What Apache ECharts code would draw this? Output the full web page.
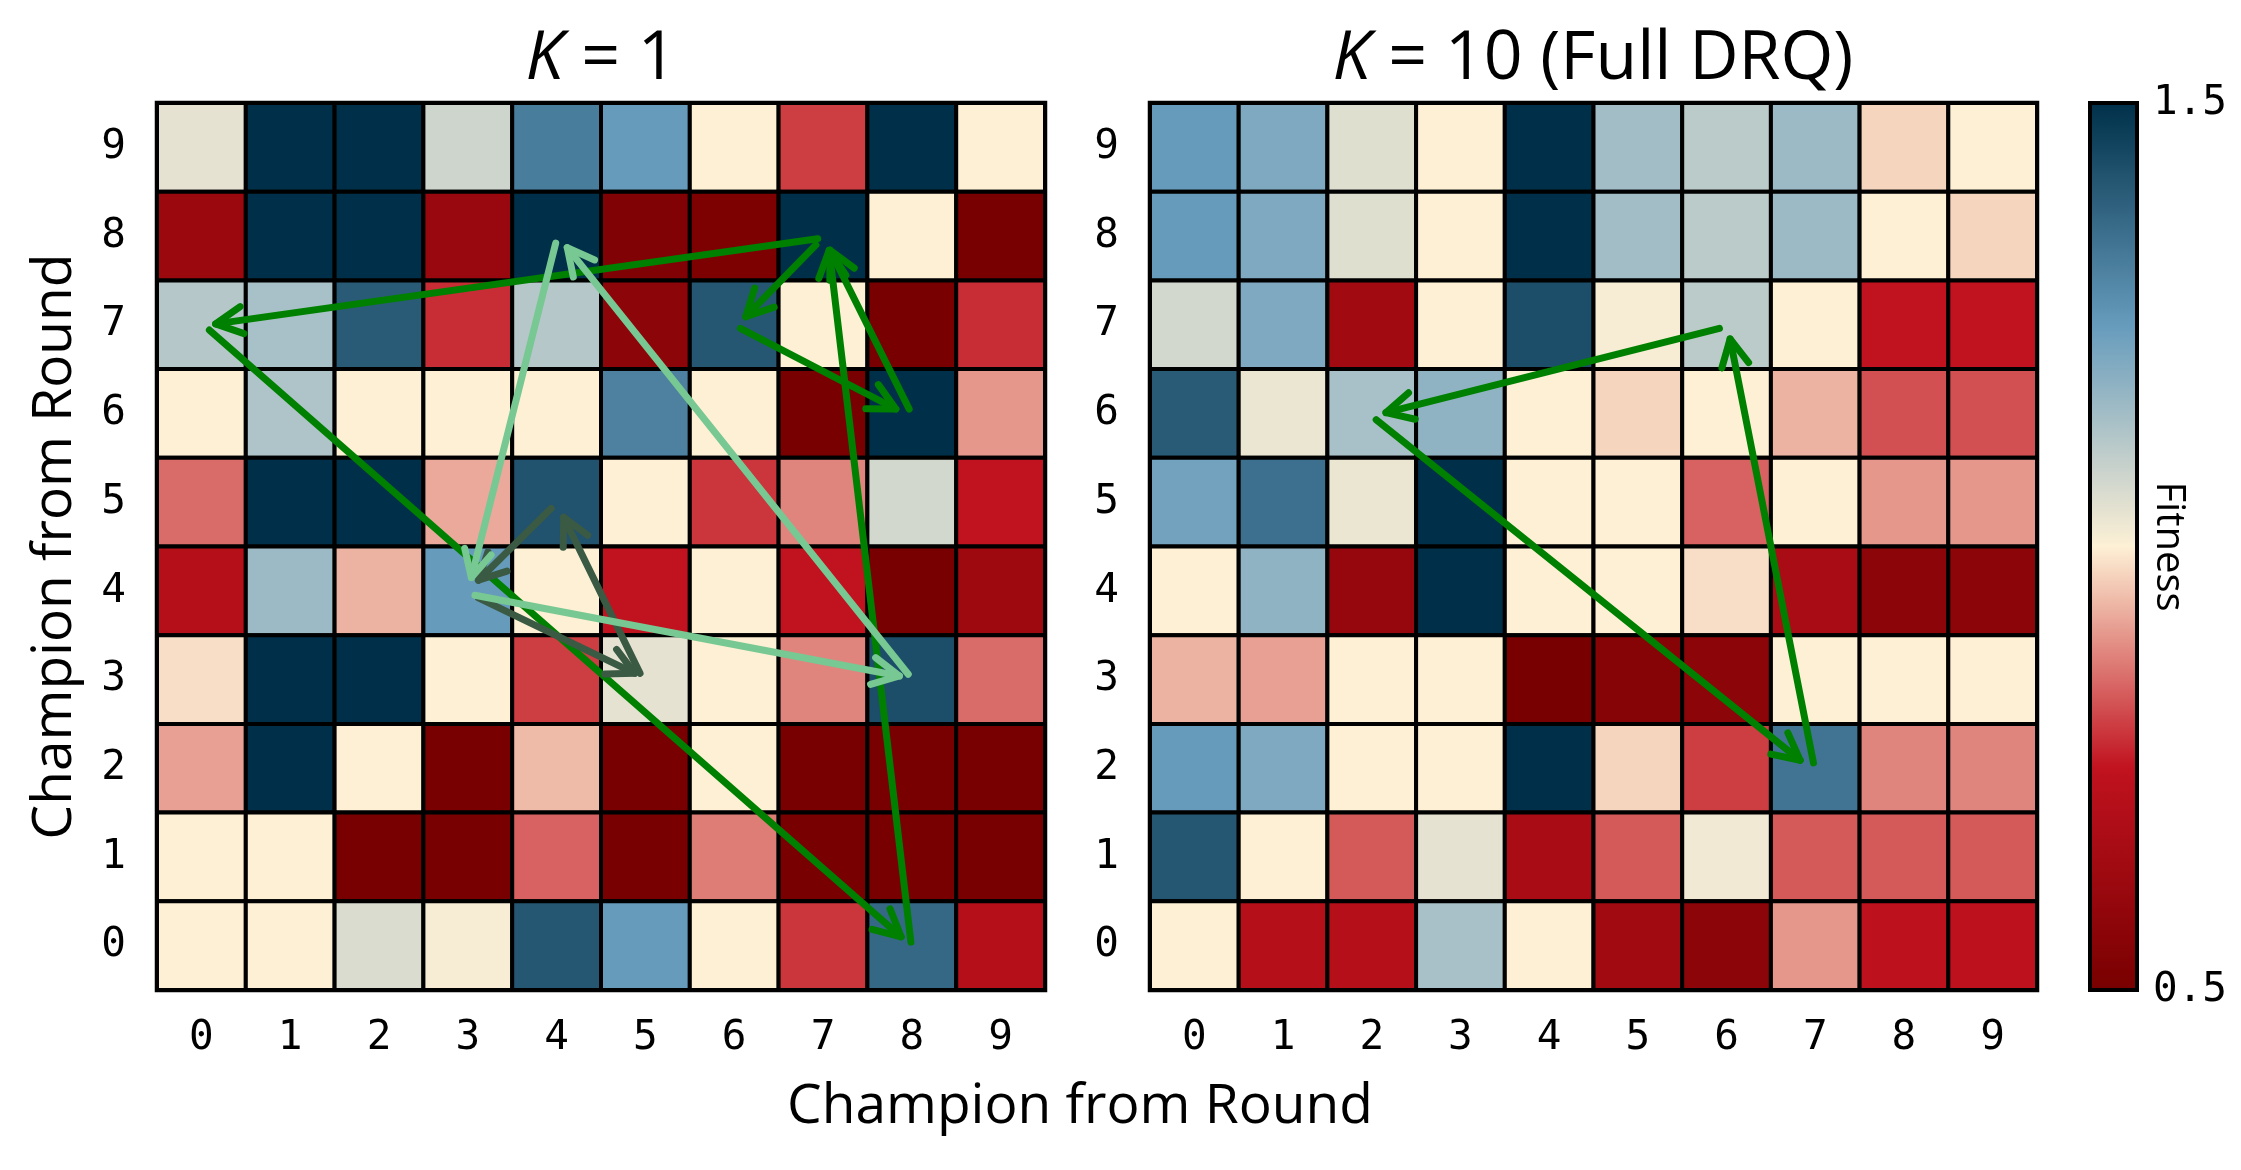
<!DOCTYPE html>
<html>
<head>
<meta charset="utf-8">
<script src="https://cdn.jsdelivr.net/npm/echarts@6/dist/echarts.min.js"></script>
<style>
  html, body { margin: 0; padding: 0; background: #ffffff; }
  #chart { width: 2241px; height: 1170px; }
</style>
</head>
<body>
<div id="chart"></div>
<script>
// Round indices shown on both axes
const rounds = [0, 1, 2, 3, 4, 5, 6, 7, 8, 9];

// Fitness of champion (row) against champion (column).
// Rows are listed from round 9 (top) down to round 0; columns run round 0..9.
const fitnessK1 = [
  [1.04, 1.50, 1.50, 1.08, 1.32, 1.25, 1.00, 0.80, 1.50, 1.00],
  [0.62, 1.50, 1.50, 0.61, 1.50, 0.53, 0.52, 1.50, 1.00, 0.50],
  [1.12, 1.14, 1.40, 0.78, 1.12, 0.57, 1.41, 1.00, 0.50, 0.78],
  [1.00, 1.13, 1.00, 1.00, 1.00, 1.31, 1.00, 0.50, 1.50, 0.90],
  [0.85, 1.50, 1.50, 0.92, 1.42, 1.00, 0.79, 0.88, 1.07, 0.75],
  [0.71, 1.16, 0.93, 1.25, 1.00, 0.75, 1.00, 0.75, 0.50, 0.63],
  [0.98, 1.50, 1.50, 1.00, 0.80, 1.04, 1.00, 0.88, 1.43, 0.85],
  [0.91, 1.50, 1.00, 0.50, 0.94, 0.50, 1.00, 0.50, 0.50, 0.50],
  [1.00, 1.00, 0.50, 0.50, 0.84, 0.50, 0.87, 0.50, 0.50, 0.50],
  [1.00, 1.00, 1.06, 1.01, 1.41, 1.25, 1.00, 0.79, 1.37, 0.71]
];

const fitnessK10 = [
  [1.25, 1.21, 1.05, 1.00, 1.50, 1.15, 1.11, 1.16, 0.97, 1.00],
  [1.25, 1.21, 1.05, 1.00, 1.50, 1.15, 1.11, 1.16, 1.00, 0.97],
  [1.07, 1.21, 0.64, 1.00, 1.43, 1.01, 1.11, 1.00, 0.75, 0.75],
  [1.40, 1.03, 1.14, 1.18, 1.00, 0.97, 1.00, 0.93, 0.82, 0.82],
  [1.23, 1.35, 1.03, 1.50, 1.00, 1.00, 0.84, 1.00, 0.90, 0.90],
  [1.00, 1.18, 0.60, 1.50, 1.00, 1.00, 0.98, 0.67, 0.57, 0.57],
  [0.93, 0.91, 1.00, 1.00, 0.50, 0.55, 0.57, 1.00, 1.00, 1.00],
  [1.25, 1.21, 1.00, 1.00, 1.50, 0.97, 0.80, 1.34, 0.88, 0.88],
  [1.41, 1.00, 0.83, 1.04, 0.67, 0.83, 1.02, 0.83, 0.83, 0.83],
  [1.00, 0.71, 0.71, 1.14, 1.00, 0.64, 0.57, 0.90, 0.74, 0.74]
];

// Champion cycles drawn as arrows: [fromRound(x), fromRound(y), toRound(x), toRound(y)]
const k1CyclesGreen = [
  [6.94, 7.97, 0.16, 7.01],
  [0.09, 6.94, 7.88, 0.10],
  [7.99, 0.04, 7.07, 7.84],
  [6.92, 7.90, 6.13, 7.09],
  [6.07, 6.96, 7.82, 6.05],
  [7.97, 6.05, 7.08, 7.84]
];
const k1CyclesDark = [
  [3.12, 3.92, 4.88, 3.07],
  [4.94, 3.07, 4.08, 4.83],
  [3.94, 4.93, 3.12, 4.12]
];
const k1CyclesLight = [
  [3.08, 3.95, 7.86, 3.04],
  [7.96, 3.06, 4.12, 7.87],
  [3.99, 7.92, 3.04, 4.15]
];
const k10CyclesGreen = [
  [5.92, 6.96, 2.16, 6.01],
  [2.05, 5.93, 6.83, 2.09],
  [6.98, 2.06, 6.04, 6.84]
];

// Colour scale
const fitnessMin = 0.5;
const fitnessMax = 1.5;
const colorbarTicks = [1.5, 0.5];
const palette = ['#780000', '#c1121f', '#fdf0d5', '#669bbc', '#003049'];

function toCells(rows) {
  const out = [];
  rows.forEach((row, i) => {
    const y = rows.length - 1 - i;
    row.forEach((v, x) => out.push([x, y, v]));
  });
  return out;
}

const SANS = '"Open Sans", "Noto Sans", sans-serif';
const MONO = '"DejaVu Sans Mono", monospace';

function cellItem(params, api) {
  const x = api.value(0), y = api.value(1);
  const p0 = api.coord([x - 0.5, y + 0.5]);
  const p1 = api.coord([x + 0.5, y - 0.5]);
  return {
    type: 'rect',
    shape: { x: p0[0], y: p0[1], width: p1[0] - p0[0], height: p1[1] - p0[1] },
    style: { fill: api.visual('color'), stroke: '#000000', lineWidth: 4 }
  };
}

function arrowItem(color, width) {
  return function (params, api) {
    const a = api.coord([api.value(0), api.value(1)]);
    const b = api.coord([api.value(2), api.value(3)]);
    const ang = Math.atan2(a[1] - b[1], a[0] - b[0]);
    const L = 30, half = 27 * Math.PI / 180;
    const h1 = [b[0] + L * Math.cos(ang + half), b[1] + L * Math.sin(ang + half)];
    const h2 = [b[0] + L * Math.cos(ang - half), b[1] + L * Math.sin(ang - half)];
    return {
      type: 'group',
      children: [
        { type: 'line', shape: { x1: a[0], y1: a[1], x2: b[0], y2: b[1] },
          style: { stroke: color, lineWidth: width, lineCap: 'round' } },
        { type: 'polyline', shape: { points: [h1, b, h2] },
          style: { stroke: color, fill: 'none', lineWidth: width, lineCap: 'round', lineJoin: 'round' } }
      ]
    };
  };
}

function arrowSeries(data, gridIdx, color, width) {
  return {
    type: 'custom', xAxisIndex: gridIdx, yAxisIndex: gridIdx,
    data: data, encode: { x: [0, 2], y: [1, 3] },
    renderItem: arrowItem(color, width), clip: false, silent: true
  };
}

const tickStyle = { show: true, customValues: rounds, length: 15, lineStyle: { color: '#000', width: 3.5 } };

function makeXAxis(gridIndex) {
  return {
    type: 'value', gridIndex, min: -0.5, max: 9.5,
    axisLine: { show: false }, splitLine: { show: false },
    axisTick: tickStyle,
    axisLabel: { show: true, customValues: rounds, margin: 28, color: '#000',
                 fontFamily: MONO, fontSize: 41, formatter: v => String(v) }
  };
}
function makeYAxis(gridIndex, name) {
  return {
    type: 'value', gridIndex, min: -0.5, max: 9.5,
    name: name, nameLocation: 'middle', nameGap: 74, nameRotate: 90,
    nameTextStyle: { fontFamily: SANS, fontSize: 55, color: '#000' },
    axisLine: { show: false }, splitLine: { show: false },
    axisTick: tickStyle,
    axisLabel: { show: true, customValues: rounds, margin: 31, color: '#000',
                 fontFamily: MONO, fontSize: 41, formatter: v => String(v) }
  };
}

const chart = echarts.init(document.getElementById('chart'), null, { renderer: 'canvas' });

const cbLeft = 2090, cbTop = 103, cbWidth = 47, cbHeight = 887;
const cbY = v => cbTop + (fitnessMax - v) / (fitnessMax - fitnessMin) * cbHeight;

chart.setOption({
  backgroundColor: '#ffffff',
  animation: false,
  grid: [
    { left: 157, top: 103, width: 888, height: 887, show: true, borderColor: '#000', borderWidth: 4.5, backgroundColor: 'transparent' },
    { left: 1150, top: 103, width: 887, height: 887, show: true, borderColor: '#000', borderWidth: 4.5, backgroundColor: 'transparent' }
  ],
  xAxis: [makeXAxis(0), makeXAxis(1)],
  yAxis: [makeYAxis(0, 'Champion from Round'), makeYAxis(1, '')],
  visualMap: {
    type: 'continuous', min: fitnessMin, max: fitnessMax, dimension: 2,
    seriesIndex: [0, 1], calculable: false, orient: 'vertical',
    left: cbLeft, top: cbTop, itemWidth: cbWidth, itemHeight: cbHeight, padding: 0,
    hoverLink: false, inRange: { color: palette }
  },
  series: [
    { type: 'custom', xAxisIndex: 0, yAxisIndex: 0, data: toCells(fitnessK1),
      encode: { x: 0, y: 1 }, renderItem: cellItem, silent: true },
    { type: 'custom', xAxisIndex: 1, yAxisIndex: 1, data: toCells(fitnessK10),
      encode: { x: 0, y: 1 }, renderItem: cellItem, silent: true },
    arrowSeries(k1CyclesGreen, 0, '#008000', 7),
    arrowSeries(k1CyclesDark, 0, '#3a5a44', 7),
    arrowSeries(k1CyclesLight, 0, '#77c892', 7),
    arrowSeries(k10CyclesGreen, 1, '#008000', 7)
  ],
  graphic: [
    { type: 'text', x: 601, y: 60, style: {
        text: '{k|K} = 1', fontFamily: SANS, fontSize: 68, fill: '#000',
        align: 'center', verticalAlign: 'middle',
        rich: { k: { fontFamily: SANS, fontSize: 68, fontStyle: 'italic', fill: '#000' } } } },
    { type: 'text', x: 1593, y: 60, style: {
        text: '{k|K} = 10 (Full DRQ)', fontFamily: SANS, fontSize: 68, fill: '#000',
        align: 'center', verticalAlign: 'middle',
        rich: { k: { fontFamily: SANS, fontSize: 68, fontStyle: 'italic', fill: '#000' } } } },
    { type: 'text', x: 1080, y: 1107, style: {
        text: 'Champion from Round', fontFamily: SANS, fontSize: 55, fill: '#000',
        align: 'center', verticalAlign: 'middle' } },
    { type: 'rect', shape: { x: cbLeft, y: cbTop, width: cbWidth, height: cbHeight },
      style: { fill: 'none', stroke: '#000', lineWidth: 4 }, z: 100 },
    ...colorbarTicks.map(v => ({ type: 'text', x: cbLeft + cbWidth + 16, y: cbY(v), style: {
        text: v.toFixed(1), fontFamily: MONO, fontSize: 41, fill: '#000',
        align: 'left', verticalAlign: 'middle' } })),
    { type: 'text', x: 2168, y: cbTop + cbHeight / 2, rotation: -Math.PI / 2, style: {
        text: 'Fitness', fontFamily: SANS, fontSize: 40, fill: '#000',
        align: 'center', verticalAlign: 'middle' } }
  ]
});
</script>
</body>
</html>
